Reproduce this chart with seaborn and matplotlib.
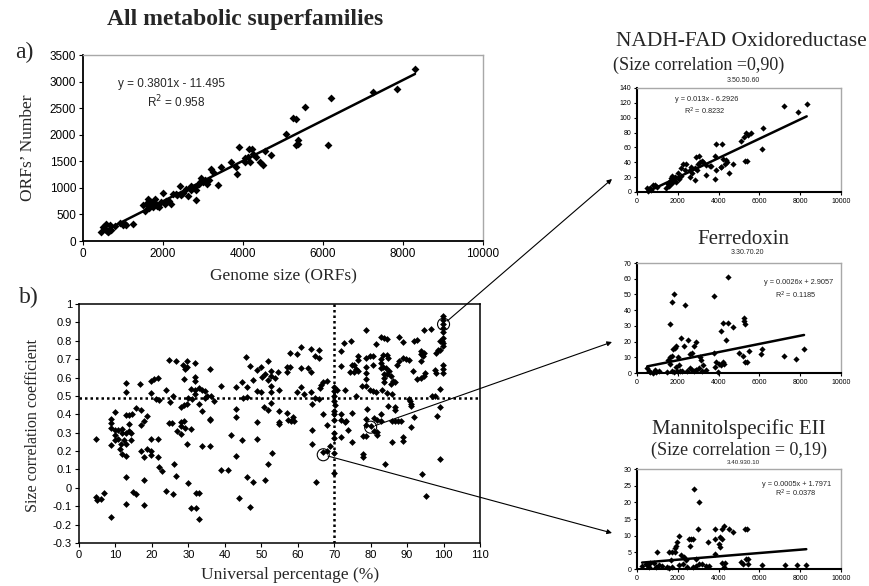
import numpy as np
import pandas as pd
import matplotlib
matplotlib.use("Agg")
import matplotlib.pyplot as plt
import seaborn as sns

# ---------------- DATA ----------------
# Panel a: genome size vs ORFs number
genome_size = [458, 500, 567, 600, 667, 625, 708, 542, 792, 917, 1042, 1083, 1250, 1500, 1583, 1625,
               1708, 1750, 1833, 1792, 2000, 2083, 2042, 2250, 2333, 2417, 2458, 2583, 2625, 2708,
               2792, 2833, 2833, 2917, 2958, 3000, 3150, 3208, 3250, 3375, 3458, 3708, 3833, 3850,
               3900, 4042, 4125, 4150, 4233, 4167, 4333, 4417, 4500, 4542, 4708, 5083, 5250, 5333,
               5375, 5317, 5375, 5550, 6193, 6118, 7243, 7858, 8300, 1550, 1650, 1700, 1900, 1950,
               2150, 2200, 2500, 2700, 2900, 3050, 3100, 550, 650, 1000, 1850, 2350, 4050, 4250]
orfs_number = [170, 264, 314, 188, 295, 170, 214, 232, 283, 339, 327, 295, 327, 679, 704, 798,
               735, 641, 704, 798, 905, 754, 704, 880, 892, 1030, 861, 987, 842, 1030,
               1018, 955, 779, 1112, 1194, 1112, 1144, 1364, 1301, 1049, 1395, 1489, 1395, 1257,
               1772, 1489, 1583, 1740, 1740, 1489, 1583, 1489, 1426, 1697, 1615, 2011, 2306, 2288,
               1822, 1803, 1898, 2527, 2685, 1806, 2810, 2855, 3231, 560, 620, 680, 640, 730,
               760, 700, 900, 960, 1080, 1150, 1080, 220, 190, 300, 660, 860, 1560, 1640]
eq_a = "y = 0.3801x - 11.495"
r2_a = "R$^2$ = 0.958"
slope_a, intercept_a = 0.3801, -11.495

# Panel b: universal percentage vs size correlation coefficient
universal_pct = [
    4.8, 4.8, 5.0, 5.9, 6.9, 8.7, 8.7, 8.7, 8.7, 8.7, 9.9, 9.9, 9.9, 9.9, 10.8, 10.8,
    11.2, 11.4, 11.7, 11.9, 11.9, 12.8, 12.8, 12.8, 13.7, 14.6, 13.0, 13.7, 14.4, 12.3, 13.0, 12.8,
    13.7, 14.4, 13.0, 13.0, 14.8, 15.7, 15.5, 16.9, 16.8, 16.9, 17.8, 18.7, 16.9, 17.8, 17.8, 17.9,
    18.7, 19.7, 19.7, 19.7, 19.7, 19.7,
    20.6, 21.8, 21.0, 21.9, 21.8, 21.8, 21.9, 22.9, 24.0, 24.7, 26.7, 24.9, 25.8, 24.7, 25.6,
    24.0, 25.8, 26.0, 26.7, 26.8, 27.9, 27.9, 27.9, 28.8, 29.1, 27.9, 28.8, 29.7,
    28.6, 29.1, 29.5, 29.7, 28.8, 30.6, 30.9, 29.7, 29.8, 30.6, 30.8, 32.0,
    31.8, 31.8, 31.8, 31.8, 31.8, 32.0, 32.9, 32.9, 32.9, 33.8, 34.7, 32.9, 33.8, 33.8,
    35.8, 35.9, 35.9, 35.9, 35.2, 36.1, 37.0, 34.5, 30.0,
    39.0, 39.0, 40.8, 41.7, 43.0, 43.0, 43.0, 43.0, 43.9, 44.6, 44.8, 45.1, 46.0, 46.0, 45.7, 46.0,
    46.8, 46.9, 47.8, 47.8, 48.7, 49.9, 48.7, 49.9, 48.8, 48.8, 50.1, 51.0, 51.0, 50.8, 51.8, 51.8,
    51.8, 51.8, 52.7, 52.7, 52.7, 52.7, 52.7, 52.9, 53.8, 54.7, 54.9, 55.0, 55.0, 55.0,
    57.0, 57.9, 57.0, 57.0, 57.3, 58.2, 59.1, 58.8, 57.9, 59.7, 59.7, 60.9, 60.9, 62.7, 60.9, 61.8,
    63.6, 63.6, 63.6, 63.8, 63.8, 63.8, 64.7, 65.7, 64.9, 65.8, 66.4, 67.0, 68.0, 66.0, 66.8, 65.7,
    64.7, 67.0, 67.9, 67.9, 68.9,
    70.0, 70.0, 70.0, 70.0, 70.2, 70.0, 70.0, 70.0, 70.0, 70.0, 70.0, 70.0,
    70.7, 71.9, 72.8, 74.6, 71.9, 73.0, 72.0, 72.0, 73.0, 73.2, 72.0, 73.9, 74.8, 74.8, 75.0, 74.3,
    76.0, 76.6, 75.4, 75.4, 76.6, 76.6, 76.0, 77.5, 78.7, 78.7, 79.7, 80.6, 78.7, 78.7, 78.7,
    78.7, 79.7, 80.6, 81.5, 79.1, 78.7, 78.7, 77.8, 78.7, 77.8, 77.8,
    80.0, 81.0, 81.8, 82.8, 80.8, 81.8, 81.8, 80.6, 81.5, 82.8, 83.7, 84.6,
    82.8, 82.8, 83.5, 84.4, 84.9, 82.8, 83.5, 84.2, 83.7, 83.7, 83.7, 84.6, 85.1, 85.5, 86.1, 86.7, 85.5,
    83.0, 84.4, 82.8, 84.0, 84.9, 86.7, 86.7, 85.8, 85.8, 86.7, 87.6, 88.2, 85.8,
    87.2, 87.9, 88.8, 89.7, 90.6, 87.9, 88.8, 89.0, 89.0, 90.4, 90.8, 91.0, 91.0, 91.0,
    91.9, 92.6, 91.7, 91.9, 92.8, 93.7, 94.6, 94.9, 93.7, 93.7, 94.3, 94.6, 93.7,
    94.0, 94.6, 96.5, 95.2, 96.8, 97.7, 97.7, 97.9, 97.9, 98.6, 99.0, 98.1, 98.9, 99.5,
    98.9, 98.9, 99.0, 99.8, 99.8, 99.8, 99.8, 99.8, 99.8, 99.8, 99.8, 99.8, 99.8, 99.8]
size_corr = [
    0.265, -0.05, -0.065, -0.06, -0.03, -0.157, 0.375, 0.352, 0.325, 0.234, 0.413, 0.312, 0.285, 0.258, 0.316, 0.267,
    0.213, 0.236, 0.186, 0.32, 0.30, 0.568, 0.52, 0.398, 0.398, 0.402, 0.30, 0.31, 0.30, 0.26, 0.24, 0.171,
    0.348, 0.258, 0.06, -0.09, -0.02, -0.036, 0.435, 0.424, 0.563, 0.34, 0.363, 0.393, 0.2, 0.168, 0.045, -0.096,
    0.213, 0.2, 0.18, 0.265, 0.58, 0.518,
    0.592, 0.596, 0.484, 0.478, 0.265, 0.168, 0.113, 0.09, 0.532, 0.697, 0.688, 0.469, 0.502, 0.352, 0.352,
    -0.017, -0.031, 0.131, 0.063, 0.308, 0.357, 0.339, 0.294, 0.363, 0.326, 0.442, 0.453, 0.456,
    0.668, 0.648, 0.69, 0.655, 0.592, 0.536, 0.484, 0.24, 0.027, 0.32, -0.107, -0.112,
    0.677, 0.605, 0.579, 0.53, 0.51, -0.03, -0.03, -0.172, 0.543, 0.532, 0.525, 0.456, 0.42, 0.225,
    0.646, 0.375, 0.37, 0.227, 0.5, 0.5, 0.473, 0.49, 0.49,
    0.556, 0.099, 0.099, 0.29, 0.55, 0.43, 0.384, 0.173, -0.053, 0.574, 0.261, 0.489, 0.55, 0.493, 0.713, 0.06,
    0.664, -0.103, 0.032, 0.586, 0.641, 0.659, 0.529, 0.52, 0.357, 0.267, 0.604, 0.619, 0.045, 0.438, 0.424, 0.691,
    0.586, 0.131, 0.637, 0.61, 0.556, 0.52, 0.46, 0.189, 0.6, 0.628, 0.532, 0.417, 0.348, 0.357,
    0.655, 0.659, 0.628, 0.406, 0.37, 0.363, 0.363, 0.388, 0.731, 0.727, 0.52, 0.767, 0.651, 0.651, 0.547, 0.51,
    0.754, 0.632, 0.52, 0.457, 0.316, 0.24, 0.718, 0.706, 0.032, 0.749, 0.56, 0.575, 0.58, 0.545, 0.4, 0.484,
    0.487, 0.195, 0.2, 0.34, 0.23,
    0.55, 0.525, 0.5, 0.475, 0.45, 0.42, 0.4, 0.37, 0.3, 0.27, 0.19, 0.08,
    0.53, 0.745, 0.79, 0.8, 0.664, 0.53, 0.4, 0.37, 0.36, 0.365, 0.276, 0.312, 0.406, 0.249, 0.67, 0.628,
    0.646, 0.637, 0.67, 0.628, 0.718, 0.695, 0.502, 0.556, 0.857, 0.706, 0.718, 0.718, 0.659, 0.623, 0.592,
    0.556, 0.532, 0.525, 0.52, 0.43, 0.375, 0.344, 0.28, 0.28, 0.186, 0.168,
    0.334, 0.38, 0.37, 0.363, 0.31, 0.303, 0.285, 0.67, 0.78, 0.821, 0.814, 0.809,
    0.70, 0.68, 0.725, 0.72, 0.705, 0.651, 0.658, 0.652, 0.619, 0.597, 0.574, 0.62, 0.635, 0.61, 0.583, 0.578, 0.565,
    0.532, 0.514, 0.402, 0.131, 0.447, 0.442, 0.424, 0.51, 0.366, 0.366, 0.363, 0.363, 0.249,
    0.67, 0.69, 0.705, 0.7, 0.695, 0.821, 0.791, 0.276, 0.254, 0.484, 0.47, 0.455, 0.445, 0.33,
    0.80, 0.803, 0.634, 0.384, 0.592, 0.597, 0.61, 0.622, 0.745, 0.727, 0.718, 0.736, 0.688,
    0.077, 0.857, 0.863, -0.046, 0.502, 0.502, 0.64, 0.623, 0.736, 0.749, 0.75, 0.393, 0.8, 0.8,
    0.538, 0.442, 0.158, 0.935, 0.915, 0.89, 0.87, 0.845, 0.815, 0.79, 0.77, 0.67, 0.646, 0.623]
threshold_corr = 0.49
threshold_pct = 70
highlight_pct = [100, 80, 67]
highlight_corr = [0.89, 0.33, 0.18]
b_yticks = [-0.3, -0.2, -0.1, 0, 0.1, 0.2, 0.3, 0.4, 0.5, 0.6, 0.7, 0.8, 0.9, 1]
b_yticklabels = ["-0.3", "-0.2", "-0.1", "0", "0.1", "0.2", "0.3", "0.4", "0.5", "0.6", "0.7", "0.8", "0.9", "1"]

# Small panels
nadh_x = [7225, 7910, 8318, 6165, 6133, 5268, 5350, 5431, 5594, 5300, 5400, 5105, 4697, 4534, 4371, 4208,
          4175, 3882, 3800, 3882, 3800, 4126, 4290, 3393, 3556, 3360, 2903, 3034, 3100, 3180, 3000,
          2822, 2822, 2577, 2659, 2414, 2251, 2169, 2333, 2000, 2150, 1600, 1750, 1850, 1700, 1550,
          1500, 1580, 1420, 1700, 1800, 1650, 800, 650, 500, 1000, 900, 700, 600, 550, 1900, 2050,
          2600, 2700, 2950, 3250, 3650, 4100, 4400]
nadh_y = [116, 108, 118, 86, 58, 74, 79, 77, 80, 42, 42, 68, 38, 26, 43, 45,
          65, 65, 48, 29, 17, 34, 38, 36, 35, 23, 47, 48, 40, 42, 38,
          32, 16, 20, 34, 38, 38, 32, 29, 25, 22, 15, 18, 20, 22, 8,
          11, 10, 6, 12, 16, 19, 9, 5, 6, 7, 10, 3, 4, 1, 14, 17,
          30, 26, 30, 40, 35, 33, 40]
nadh_label = ["NADH-FAD Oxidoreductase", "(Size correlation =0,90)", "3.50.50.60",
              "y = 0.013x - 6.2926", "R$^2$ = 0.8232"]
nadh_fit = (0.013, -6.2926)
nadh_yticks = [0, 20, 40, 60, 80, 100, 120, 140]

ferr_x = [4453, 3768, 1794, 1729, 2365, 1631, 4208, 4485, 4697, 4094, 4371, 5235, 5235, 5300, 5219,
          5300, 5399, 5023, 5496, 6084, 6133, 7193, 7796, 8188, 2169, 2284, 1925, 1761, 1843, 1600,
          1550, 1600, 1500, 1700, 2496, 2610, 2708, 2903, 2789, 3100, 3150, 3752, 3800, 3850, 4012,
          4126, 4192, 4241, 3963, 3393, 2900, 3050, 3200, 2450, 2600, 2800, 2900, 2050, 2200, 1900,
          2000, 1700, 1800, 1950, 1100, 1450, 950, 800, 650, 500, 600, 900, 2100, 3250, 2700]
ferr_y = [61, 49, 50, 45, 43, 31, 32, 32, 29, 27, 21, 35, 33, 31, 11,
          7, 7, 13, 14, 12, 15, 11, 9, 15, 22, 17, 17, 15, 16, 10,
          8, 6, 8, 11, 21, 12, 13, 20, 17, 10, 8, 13, 4, 7, 6,
          5, 7, 6, 0.4, 2, 2, 3, 1, 1, 3, 1, 2, 5, 1, 4,
          10, 1, 0.5, 1, 1, 0.5, 0.5, 0, 0.5, 3, 1, 2, 1, 5, 2]
ferr_label = ["Ferredoxin", "3.30.70.20", "y = 0.0026x + 2.9057", "R$^2$ = 0.1185"]
ferr_fit = (0.0026, 2.9057)
ferr_yticks = [0, 10, 20, 30, 40, 50, 60, 70]

mann_x = [2810, 3025, 2975, 2529, 2645, 2760, 2595, 2066, 1984, 1934, 1868, 3471, 3802, 4182, 4248,
          4512, 4711, 4050, 3802, 4017, 4050, 4165, 5290, 5372, 5323, 5422, 5207, 5455, 5075, 6116,
          7240, 7852, 8298, 992, 1570, 1736, 1868, 1653, 2149, 2314, 2397, 2893, 3050, 3210, 3802,
          4150, 4300, 4250, 2040, 2240, 2430, 500, 580, 420, 250, 1250, 1450, 1550, 1730, 2750,
          2900, 3400, 3550, 660, 830, 910, 1080]
mann_y = [24, 20, 12, 9, 9, 9, 7, 10, 8, 7, 6.4, 8, 12, 12, 13,
          12, 11, 9.7, 9, 7.4, 6.6, 9, 12, 12, 3.1, 1.6, 1.6, 3.1, 2.1, 1.1,
          1.1, 1.1, 1.1, 5.1, 5.1, 5.1, 5.1, 2.6, 4.1, 3.6, 2.6, 3.1, 1.6, 1.6, 4.4,
          1.8, 1.8, 0.6, 1.1, 1.4, 0.6, 1.1, 0.6, 1.6, 0.8, 0.9, 0.6, 0.3, 0.6, 0.6,
          1.0, 0.8, 1.0, 1.8, 1.8, 0.6, 1.1]
mann_label = ["Mannitolspecific EII", "(Size correlation = 0,19)", "3.40.930.10",
              "y = 0.0005x + 1.7971", "R$^2$ = 0.0378"]
mann_fit = (0.0005, 1.7971)
mann_yticks = [0, 5, 10, 15, 20, 25, 30]

genome_ticks = [0, 2000, 4000, 6000, 8000, 10000]

# ---------------- STYLE ----------------
sns.set_theme(style="white")
plt.rcParams['font.family'] = ['Liberation Sans', 'DejaVu Sans']
SERIF = ['Liberation Serif', 'DejaVu Serif']
W, H = 870, 586
fig = plt.figure(figsize=(W / 100, H / 100), dpi=100)


def rect(l, t, r, b):
    return [l / W, 1 - b / H, (r - l) / W, (b - t) / H]


def fp(x, y):
    return (x / W, 1 - y / H)


def excel_style(ax, lw=1.3, tick_fs=8, tlen=3):
    for s in ['left', 'bottom']:
        ax.spines[s].set_color('black')
        ax.spines[s].set_linewidth(lw)
    for s in ['top', 'right']:
        ax.spines[s].set_color('#a8a8a8')
        ax.spines[s].set_linewidth(1.0)
    ax.tick_params(axis='both', direction='out', length=tlen, width=0.8, colors='black',
                   labelsize=tick_fs, left=True, bottom=True, pad=2)
    ax.set_xlabel('')
    ax.set_ylabel('')


# ---------------- Panel a ----------------
ax_a = fig.add_axes(rect(83, 55, 483, 241))
dfa = pd.DataFrame({'g': genome_size, 'o': orfs_number})
sns.scatterplot(data=dfa, x='g', y='o', ax=ax_a, marker='D', s=16, color='black',
                edgecolor='black', linewidth=0)
xa = np.array([min(genome_size), max(genome_size)])
ax_a.plot(xa, slope_a * xa + intercept_a, color='black', lw=1.8)
ax_a.set_xlim(0, 10000)
ax_a.set_ylim(0, 3500)
ax_a.set_xticks(genome_ticks)
ax_a.set_yticks(range(0, 3501, 500))
excel_style(ax_a, tick_fs=8.5)
ax_a.text(0.088, 0.845, eq_a, transform=ax_a.transAxes, fontsize=8.5, ha='left', va='center')
ax_a.text(0.16, 0.75, r2_a, transform=ax_a.transAxes, fontsize=8.5, ha='left', va='center')
fig.text(*fp(283, 276), "Genome size (ORFs)", family=SERIF, fontsize=12.5, ha='center', va='center')
fig.text(*fp(28, 148), "ORFs\u2019 Number", family=SERIF, fontsize=12.5, ha='center', va='center',
         rotation=90)

# ---------------- Panel b ----------------
ax_b = fig.add_axes(rect(79, 304, 480, 543))
dfb = pd.DataFrame({'u': universal_pct, 'c': size_corr})
sns.scatterplot(data=dfb, x='u', y='c', ax=ax_b, marker='D', s=12, color='black',
                edgecolor='black', linewidth=0)
ax_b.axhline(threshold_corr, color='black', ls=(0, (1, 1.2)), lw=1.8)
ax_b.axvline(threshold_pct, color='black', ls=(0, (1, 1.2)), lw=1.8)
ax_b.scatter(highlight_pct, highlight_corr, s=75, facecolors='none', edgecolors='black',
             linewidths=0.8, zorder=5)
ax_b.set_xlim(0, 110)
ax_b.set_ylim(-0.3, 1)
ax_b.set_xticks(range(0, 111, 10))
ax_b.set_yticks(b_yticks)
ax_b.set_yticklabels(b_yticklabels)
ax_b.set_xlabel('')
ax_b.set_ylabel('')
for s in ax_b.spines.values():
    s.set_color('black')
    s.set_linewidth(1.1)
ax_b.tick_params(axis='both', direction='out', length=3, width=0.8, colors='black',
                 labelsize=8, left=True, bottom=True, pad=2)
fig.text(*fp(290, 575), "Universal percentage (%)", family=SERIF, fontsize=12.5,
         ha='center', va='center')
fig.text(*fp(33, 425), "Size correlation coefficient", family=SERIF, fontsize=11.5,
         ha='center', va='center', rotation=90)

# Titles / panel letters
fig.text(*fp(245, 20), "All metabolic superfamilies", family=SERIF, fontsize=17,
         fontweight='bold', ha='center', va='center')
fig.text(*fp(24, 52), "a)", family=SERIF, fontsize=17, ha='center', va='center')
fig.text(*fp(29, 297), "b)", family=SERIF, fontsize=17, ha='center', va='center')


# ---------------- Small panels ----------------
def small_panel(box, xs, ys, fit, yticks, eq, r2, eq_pos, r2_pos):
    ax = fig.add_axes(rect(*box))
    d = pd.DataFrame({'x': xs, 'y': ys})
    sns.scatterplot(data=d, x='x', y='y', ax=ax, marker='D', s=10, color='black',
                    edgecolor='black', linewidth=0, clip_on=False)
    xx = np.array([min(xs), max(xs)])
    ax.plot(xx, fit[0] * xx + fit[1], color='black', lw=1.8)
    ax.set_xlim(0, 10000)
    ax.set_ylim(yticks[0], yticks[-1])
    ax.set_xticks(genome_ticks)
    ax.set_yticks(yticks)
    excel_style(ax, lw=1.5, tick_fs=5, tlen=2)
    ax.text(*eq_pos, eq, transform=ax.transAxes, fontsize=5.3, ha='center', va='center')
    ax.text(*r2_pos, r2, transform=ax.transAxes, fontsize=5.3, ha='center', va='center')
    return ax


ax_n = small_panel((637, 88, 841, 192), nadh_x, nadh_y, nadh_fit, nadh_yticks,
                   nadh_label[3], nadh_label[4], (0.34, 0.89), (0.33, 0.78))
fig.text(*fp(741, 42), nadh_label[0], family=SERIF, fontsize=15.5, ha='center', va='center')
fig.text(*fp(613, 65), nadh_label[1], family=SERIF, fontsize=13, ha='left', va='center')
fig.text(*fp(743, 80), nadh_label[2], fontsize=5, ha='center', va='center')

ax_f = small_panel((637, 263, 841, 373), ferr_x, ferr_y, ferr_fit, ferr_yticks,
                   ferr_label[2], ferr_label[3], (0.79, 0.82), (0.78, 0.71))
fig.text(*fp(743, 239), ferr_label[0], family=SERIF, fontsize=15, ha='center', va='center')
fig.text(*fp(747, 253), ferr_label[1], fontsize=5, ha='center', va='center')

ax_m = small_panel((637, 469, 841, 569), mann_x, mann_y, mann_fit, mann_yticks,
                   mann_label[3], mann_label[4], (0.78, 0.84), (0.78, 0.76))
fig.text(*fp(739, 429), mann_label[0], family=SERIF, fontsize=15, ha='center', va='center')
fig.text(*fp(739, 450), mann_label[1], family=SERIF, fontsize=13, ha='center', va='center')
fig.text(*fp(743, 462), mann_label[2], fontsize=4.5, ha='center', va='center')

# ---------------- Arrows ----------------
targets = [(612, 179), (612, 342), (612, 533)]
for (hx, hy), (tx, ty) in zip(zip(highlight_pct, highlight_corr), targets):
    ax_b.annotate('', xy=fp(tx, ty), xycoords='figure fraction', xytext=(hx, hy),
                  textcoords='data',
                  arrowprops=dict(arrowstyle='-|>', color='black', lw=0.8, shrinkA=3.5,
                                  shrinkB=0, mutation_scale=7))

fig.savefig("out.png", dpi=100, facecolor='white')
